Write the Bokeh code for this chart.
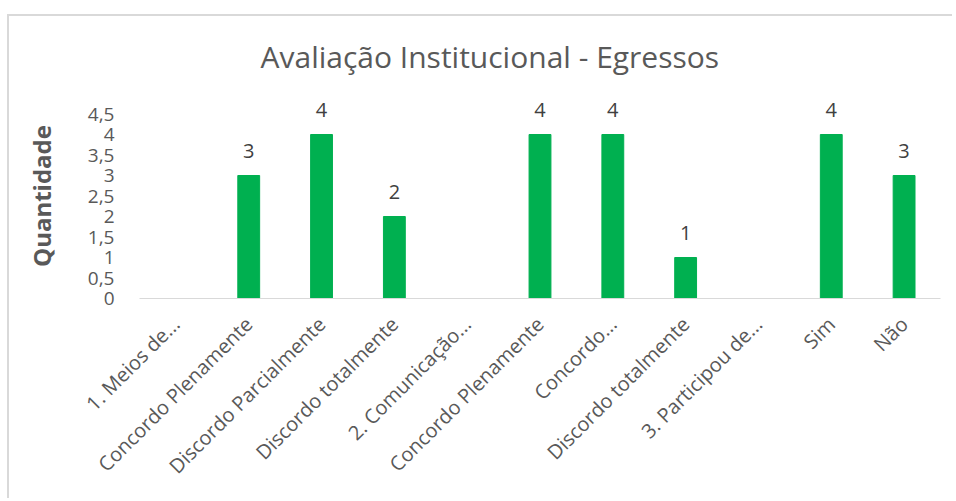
import math
from bokeh.plotting import figure
from bokeh.models import (ColumnDataSource, FixedTicker, CustomJSTickFormatter,
                          AllLabels, Range1d)
from bokeh.core.properties import value
from bokeh.embed import file_html
from bokeh.resources import INLINE

# ---- data ----
categories = ["1. Meios de...", "Concordo Plenamente", "Discordo Parcialmente",
              "Discordo totalmente", "2. Comunicação...", "Concordo Plenamente",
              "Concordo...", "Discordo totalmente", "3. Participou de...",
              "Sim", "Não"]
values = [None, 3, 4, 2, None, 4, 4, 1, None, 4, 3]
y_ticks = [0, 0.5, 1, 1.5, 2, 2.5, 3, 3.5, 4, 4.5]

FONT = "Open Sans"
GRAY = "#595959"

xs = [i for i, v in enumerate(values) if v is not None]
tops = [v for v in values if v is not None]
src = ColumnDataSource(dict(x=xs, top=tops, label=[str(v) for v in tops]))

p = figure(width=945, height=484, output_backend="svg", toolbar_location=None,
           x_range=Range1d(-0.5, len(categories) - 0.5), y_range=Range1d(0, 5.0),
           min_border_left=130, min_border_right=14, min_border_top=77,
           min_border_bottom=202)
p.styles = {"position": "relative", "top": "14px", "left": "7px",
            "border-top": "2px solid #d9d9d9", "border-left": "2px solid #d9d9d9"}

p.vbar(x="x", top="top", width=0.3, source=src, color="#00B050")
p.text(x="x", y="top", text="label", source=src, text_align="center",
       text_baseline="alphabetic", y_offset=-25, text_font_size="20px",
       text_color="#404040", text_font=value(FONT))

p.title.text = "Avaliação Institucional - Egressos"
p.title.align = "left"
p.title.text_font = FONT
p.title.text_font_size = "30px"
p.title.text_font_style = "normal"
p.title.text_color = GRAY
p.title.standoff = 33
p.title.offset = 121

p.outline_line_color = None
p.grid.grid_line_color = None
p.background_fill_color = "white"
p.border_fill_color = "white"

xa = p.xaxis[0]
xa.ticker = FixedTicker(ticks=list(range(len(categories))))
xa.major_label_overrides = {i: c for i, c in enumerate(categories)}
xa.major_label_orientation = math.pi / 4
xa.major_tick_line_color = None
xa.major_tick_out = 0
xa.major_tick_in = 0
xa.minor_tick_line_color = None
xa.axis_line_color = "#d9d9d9"
xa.major_label_text_font = FONT
xa.major_label_text_font_size = "20px"
xa.major_label_text_color = GRAY
xa.major_label_standoff = 22
xa.major_label_policy = AllLabels()

ya = p.yaxis[0]
ya.ticker = FixedTicker(ticks=y_ticks)
ya.formatter = CustomJSTickFormatter(code="return tick.toString().replace('.', ',');")
ya.major_label_policy = AllLabels()
ya.axis_line_color = None
ya.major_tick_line_color = None
ya.major_tick_out = 0
ya.major_tick_in = 0
ya.minor_tick_line_color = None
ya.major_label_text_font = FONT
ya.major_label_text_font_size = "19px"
ya.major_label_text_color = GRAY
ya.major_label_standoff = 25
ya.axis_label = "Quantidade"
ya.axis_label_text_font = FONT
ya.axis_label_text_font_size = "24px"
ya.axis_label_text_font_style = "bold"
ya.axis_label_text_color = GRAY
ya.axis_label_standoff = 27

open("out.html", "w").write(file_html(p, INLINE))
